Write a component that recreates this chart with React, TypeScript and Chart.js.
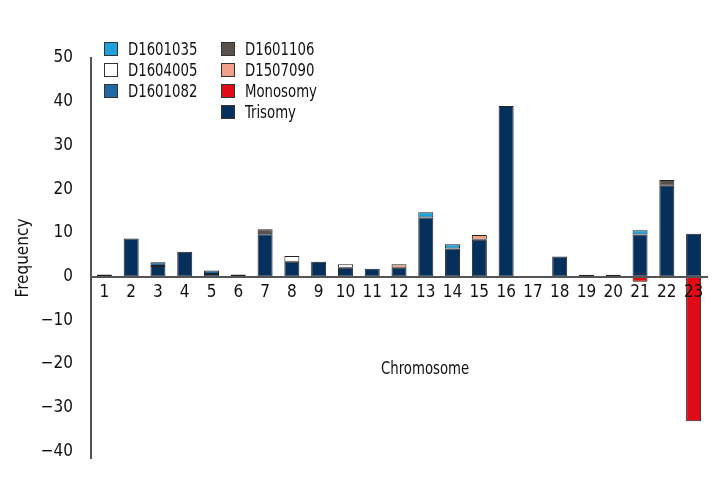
import React, { useEffect, useRef } from "react";
import { Chart, registerables } from "chart.js";

Chart.register(...registerables);

const chromosomes = ["1","2","3","4","5","6","7","8","9","10","11","12","13","14","15","16","17","18","19","20","21","22","23"];

const trisomy   = [0.5, 8.7, 2.4, 5.7, 0.6, 0.5, 9.7, 3.4, 3.4, 2.0, 1.8, 2.0, 13.5, 6.4, 8.4, 39, 0, 4.6, 0.4, 0.4, 9.6, 20.8, 9.8];
const d1601035  = [0, 0, 0, 0, 0, 0, 0, 0, 0, 0, 0, 0, 1.2, 1.0, 0, 0, 0, 0, 0, 0, 1.0, 0, 0];
const d1604005  = [0, 0, 0, 0, 0, 0, 0, 1.3, 0, 0.8, 0, 0, 0, 0, 0, 0, 0, 0, 0, 0, 0, 0, 0];
const d1601082  = [0, 0, 0.9, 0, 0.8, 0, 0, 0, 0, 0, 0, 0, 0, 0, 0, 0, 0, 0, 0, 0, 0, 0, 0];
const d1601106  = [0, 0, 0, 0, 0, 0, 1.1, 0, 0, 0, 0, 0, 0, 0, 0, 0, 0, 0, 0, 0, 0, 1.3, 0];
const d1507090  = [0, 0, 0, 0, 0, 0, 0, 0, 0, 0, 0, 0.8, 0, 0, 1.1, 0, 0, 0, 0, 0, 0, 0, 0];
const monosomy  = [0, 0, 0, 0, 0, 0, 0, 0, 0, 0, 0, 0, 0, 0, 0, 0, 0, 0, 0, 0, -1.2, 0, -33.1];

const yTicks = [-40, -30, -20, -10, 0, 10, 20, 30, 40, 50];

const series = [
  { label: "Trisomy", data: trisomy, color: "#06305c" },
  { label: "D1601035", data: d1601035, color: "#1ea0dc" },
  { label: "D1604005", data: d1604005, color: "#ffffff" },
  { label: "D1601082", data: d1601082, color: "#1f6aa5" },
  { label: "D1601106", data: d1601106, color: "#5a514d" },
  { label: "D1507090", data: d1507090, color: "#f0a088" },
  { label: "Monosomy", data: monosomy, color: "#e10a17" },
];

const legendCol1 = ["D1601035", "D1604005", "D1601082"];
const legendCol2 = ["D1601106", "D1507090", "Monosomy", "Trisomy"];

const FONT = "'Liberation Sans Narrow', 'DejaVu Sans Condensed', 'Roboto', sans-serif";

function colorOf(label: string) {
  const s = series.find((x) => x.label === label);
  return s ? s.color : "#000";
}

function NarrowText({ children, size }: { children: React.ReactNode; size: number }) {
  return (
    <span
      style={{
        display: "inline-block",
        fontFamily: FONT,
        fontSize: size,
        color: "#111",
        transform: "scaleX(0.82)",
        transformOrigin: "left center",
        whiteSpace: "nowrap",
      }}
    >
      {children}
    </span>
  );
}

function LegendItem({ label }: { label: string }) {
  return (
    <div style={{ display: "flex", alignItems: "center", height: 21 }}>
      <div
        style={{
          width: 14,
          height: 14,
          background: colorOf(label),
          border: "1px solid #333",
          marginRight: 10,
          boxSizing: "border-box",
          flex: "none",
        }}
      />
      <NarrowText size={18}>{label}</NarrowText>
    </div>
  );
}

export default function App() {
  const ref = useRef<HTMLCanvasElement | null>(null);

  useEffect(() => {
    if (!ref.current) return;
    const chart = new Chart(ref.current, {
      type: "bar",
      data: {
        labels: chromosomes,
        datasets: series.map((s) => ({
          label: s.label,
          data: s.data,
          backgroundColor: s.color,
          borderColor: "#222",
          borderWidth: 1,
          borderSkipped: false,
          barPercentage: 0.56,
          categoryPercentage: 1,
        })),
      },
      options: {
        animation: false,
        responsive: false,
        maintainAspectRatio: false,
        layout: { padding: { top: 58, right: 13, bottom: 42, left: 0 } },
        plugins: {
          legend: { display: false },
          tooltip: { enabled: false },
        },
        scales: {
          x: {
            stacked: true,
            position: { y: 0 },
            grid: { display: false, drawTicks: false },
            border: { display: true, color: "#555", width: 2, z: 1 },
            ticks: {
              z: 1,
              color: "#111",
              font: { family: FONT, size: 17 },
              padding: 6,
              maxRotation: 0,
              autoSkip: false,
            },
          },
          y: {
            stacked: true,
            min: -41.5,
            max: 50,
            afterFit: (scale: any) => {
              scale.width = 91;
            },
            afterBuildTicks: (axis: any) => {
              axis.ticks = yTicks.map((v) => ({ value: v }));
            },
            grid: { display: false, drawTicks: false },
            border: { display: true, color: "#555", width: 2 },
            title: {
              display: true,
              text: "Frequency",
              color: "#111",
              font: { family: FONT, size: 17 },
              padding: { top: 13, bottom: 0 },
            },
            ticks: {
              color: "#111",
              font: { family: FONT, size: 17 },
              padding: 18,
              callback: (v: any) => String(v).replace("-", "\u2212"),
            },
          },
        },
      },
    });
    return () => chart.destroy();
  }, []);

  return (
    <div style={{ position: "fixed", left: 0, top: 0, width: 720, height: 500, background: "#fff" }}>
      <canvas ref={ref} width={720} height={500} style={{ display: "block" }} />
      <div style={{ position: "absolute", left: 104, top: 38 }}>
        {legendCol1.map((l) => (
          <LegendItem key={l} label={l} />
        ))}
      </div>
      <div style={{ position: "absolute", left: 221, top: 38 }}>
        {legendCol2.map((l) => (
          <LegendItem key={l} label={l} />
        ))}
      </div>
      <div style={{ position: "absolute", left: 381, top: 357, lineHeight: "22px" }}>
        <NarrowText size={18}>Chromosome</NarrowText>
      </div>
    </div>
  );
}
